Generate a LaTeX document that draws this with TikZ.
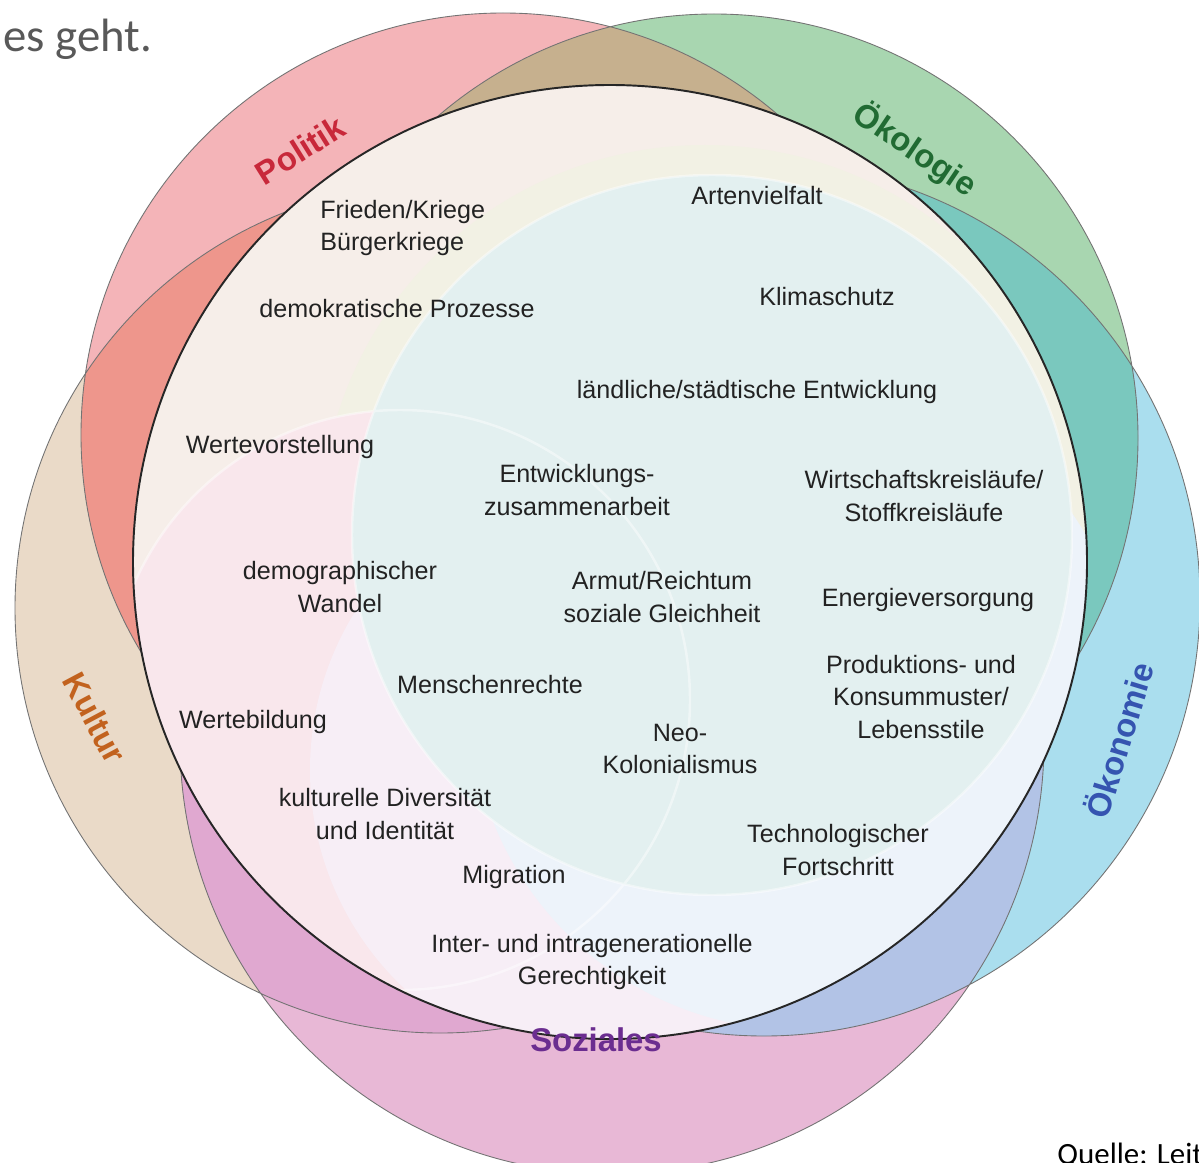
\documentclass[tikz,border=0pt]{standalone}
\usepackage{fontspec}
\setmainfont{Liberation Sans}
\newfontfamily\calibfont{Carlito}
\definecolor{polC}{HTML}{F4B4B8}
\definecolor{oekC}{HTML}{A8D6B0}
\definecolor{ecoC}{HTML}{AADEEE}
\definecolor{sozC}{HTML}{E8B8D6}
\definecolor{kulC}{HTML}{EADAC8}
\definecolor{polkul}{HTML}{EE968C}
\definecolor{poloek}{HTML}{C6B08E}
\definecolor{oekeco}{HTML}{7AC8BE}
\definecolor{ecosoz}{HTML}{B2C3E6}
\definecolor{sozkul}{HTML}{E0A8D0}
\definecolor{polT}{HTML}{C8283A}
\definecolor{oekT}{HTML}{216B33}
\definecolor{ecoT}{HTML}{3554B0}
\definecolor{sozT}{HTML}{6B2D90}
\definecolor{kulT}{HTML}{C2621E}
\definecolor{inBase}{HTML}{F6EEE9}
\definecolor{inYel}{HTML}{F2F1E4}
\definecolor{inPink}{HTML}{F9E7EC}
\definecolor{inLav}{HTML}{F7EEF6}
\definecolor{inBlue}{HTML}{EDF3FA}
\definecolor{inCyan}{HTML}{E3F0F0}
\definecolor{txtC}{HTML}{222222}
\definecolor{greyT}{HTML}{595959}
\newcommand{\MainC}{(610,562) circle[radius=477]}
\newcommand{\PolC}{(503,435) circle[radius=422]}
\newcommand{\OekC}{(714,438) circle[radius=424]}
\newcommand{\EcoC}{(764,600) circle[radius=436]}
\newcommand{\SozC}{(612,742) circle[radius=432]}
\newcommand{\KulC}{(440,608) circle[radius=425]}
\begin{document}
\begin{tikzpicture}[x=0.02cm,y=-0.02cm,
  edge/.style={draw=black!55,line width=0.5pt},
  mainline/.style={draw=black!85,line width=1.1pt},
  txt/.style={font=\fontsize{14.3}{18.7}\selectfont,align=center,text=txtC,inner sep=0pt},
  lab/.style={font=\bfseries\fontsize{18.7}{22}\selectfont,inner sep=0pt},
  faint/.style={draw=white,line width=1.4pt,opacity=0.45}]
\useasboundingbox (0,0) rectangle (1199,1162);
\fill[white] (0,0) rectangle (1199,1162);
% outer circles
\fill[kulC] \KulC;
\fill[sozC] \SozC;
\fill[ecoC] \EcoC;
\fill[oekC] \OekC;
\fill[polC] \PolC;
\begin{scope}\clip \PolC; \fill[polkul] \KulC; \fill[poloek] \OekC; \end{scope}
\begin{scope}\clip \OekC; \fill[oekeco] \EcoC; \end{scope}
\begin{scope}\clip \EcoC; \fill[ecosoz] \SozC; \end{scope}
\begin{scope}\clip \SozC; \fill[sozkul] \KulC; \end{scope}
\draw[edge] \KulC \SozC \EcoC \OekC \PolC;
% inner disc
\begin{scope}
\clip \MainC;
\fill[inBase] \MainC;
\fill[inYel] (705,530) circle[radius=385];
\fill[inPink] (400,700) circle[radius=290];
\fill[inLav] (610,770) circle[radius=300];
\fill[inBlue] (800,700) circle[radius=330];
\fill[inCyan] (712,535) circle[radius=360];
\draw[faint] (712,535) circle[radius=360] (400,700) circle[radius=290];
\end{scope}
\draw[mainline] \MainC;
% labels on bands
\node[lab,text=polT,rotate=32] (lPol) at (300,150) {Politik};
\node[lab,text=oekT,rotate=-34] (lOek) at (915,150) {Ökologie};
\node[lab,text=ecoT,rotate=73] (lEco) at (1118,740) {Ökonomie};
\node[lab,text=sozT] (lSoz) at (596,1040) {Soziales};
\node[lab,text=kulT,rotate=-62] (lKul) at (95,718) {Kultur};
% inner texts
\node[txt,align=left,anchor=west] (t1) at (320,228) {Frieden/Kriege\\Bürgerkriege};
\node[txt] (t2) at (397,309) {demokratische Prozesse};
\node[txt] (t3) at (757,196) {Artenvielfalt};
\node[txt] (t4) at (827,297) {Klimaschutz};
\node[txt] (t5) at (757,392) {ländliche/städtische Entwicklung};
\node[txt] (t6) at (280,447) {Wertevorstellung};
\node[txt] (t7) at (577,490) {Entwicklungs-\\zusammenarbeit};
\node[txt] (t8) at (924,496) {Wirtschaftskreisläufe/\\Stoffkreisläufe};
\node[txt] (t9) at (340,587) {demographischer\\Wandel};
\node[txt] (t10) at (662,597) {Armut/Reichtum\\soziale Gleichheit};
\node[txt] (t11) at (928,600) {Energieversorgung};
\node[txt] (t12) at (921,697) {Produktions- und\\Konsummuster/\\Lebensstile};
\node[txt] (t13) at (490,685) {Menschenrechte};
\node[txt] (t14) at (253,722) {Wertebildung};
\node[txt] (t15) at (680,749) {Neo-\\Kolonialismus};
\node[txt] (t16) at (385,814) {kulturelle Diversität\\und Identität};
\node[txt] (t17) at (838,850) {Technologischer\\Fortschritt};
\node[txt] (t18) at (514,877) {Migration};
\node[txt] (t19) at (592,962) {Inter- und intragenerationelle\\Gerechtigkeit};
% page texts
\node[anchor=base west,inner sep=0pt,text=greyT,font=\calibfont\fontsize{26.6}{30}\selectfont] (esgeht) at (3,52) {es geht.};
\node[anchor=base west,inner sep=0pt,text=black,font=\calibfont\fontsize{17.6}{20}\selectfont] (quelle) at (1057,1164) {Quelle: Leit};
\end{tikzpicture}
\end{document}
